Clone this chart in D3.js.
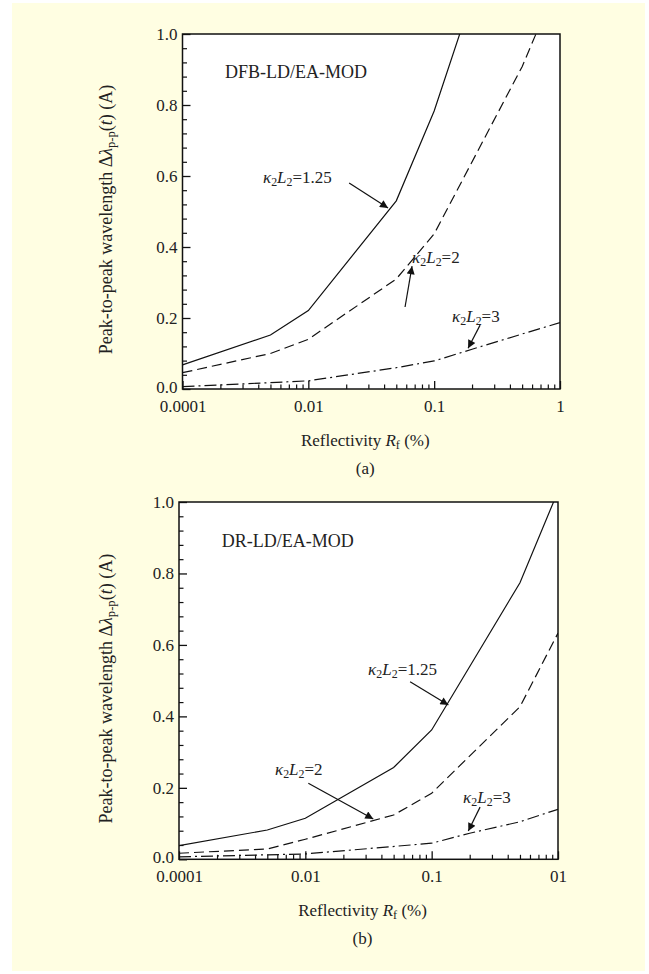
<!DOCTYPE html>
<html>
<head>
<meta charset="utf-8">
<script src="https://cdn.jsdelivr.net/npm/d3@7"></script>
<style>
  html, body { margin: 0; padding: 0; background: #ffffff; }
  svg { display: block; }
  text { font-family: "Liberation Serif", "Times New Roman", serif; fill: #222; }
</style>
</head>
<body>
<svg id="chart" width="649" height="974"></svg>
<script>
// ---- data ----
const xTickValues = [0.001, 0.01, 0.1, 1];
const yTickValues = [0, 0.2, 0.4, 0.6, 0.8, 1.0];
const yTickLabels = ["0.0", "0.2", "0.4", "0.6", "0.8", "1.0"];
const xTickLabelsA = ["0.0001", "0.01", "0.1", "1"];
const xTickLabelsB = ["0.0001", "0.01", "0.1", "01"];

// panel (a) DFB-LD/EA-MOD
const a_k125_x = [0.001, 0.005, 0.01, 0.05, 0.1, 0.5];
const a_k125_y = [0.068, 0.152, 0.221, 0.530, 0.783, 1.53];
const a_k2_x = [0.001, 0.005, 0.01, 0.05, 0.1, 0.5, 1];
const a_k2_y = [0.046, 0.100, 0.140, 0.310, 0.437, 0.908, 1.16];
const a_k3_x = [0.001, 0.01, 0.05, 0.1, 0.2, 0.5, 1];
const a_k3_y = [0.0065, 0.023, 0.060, 0.079, 0.112, 0.155, 0.187];

// panel (b) DR-LD/EA-MOD
const b_k125_x = [0.001, 0.005, 0.01, 0.05, 0.1, 0.5, 1];
const b_k125_y = [0.038, 0.082, 0.115, 0.257, 0.362, 0.774, 1.03];
const b_k2_x = [0.001, 0.005, 0.01, 0.05, 0.1, 0.5, 1];
const b_k2_y = [0.017, 0.029, 0.056, 0.124, 0.185, 0.427, 0.633];
const b_k3_x = [0.001, 0.01, 0.1, 0.2, 0.5, 1];
const b_k3_y = [0.007, 0.015, 0.045, 0.073, 0.105, 0.140];

const seriesKappa = ["1.25", "2", "3"];

// annotations: [label x, label y, arrow from x, from y, arrow to x, to y] in data units
const a_notes = [
  [0.00436, 0.580, 0.0211, 0.580, 0.043, 0.510],
  [0.0667, 0.355, 0.0587, 0.231, 0.0667, 0.346],
  [0.1387, 0.189, 0.2317, 0.180, 0.186, 0.115]
];
const b_notes = [
  [0.0314, 0.516, 0.0675, 0.497, 0.1356, 0.432],
  [0.00575, 0.236, 0.01056, 0.213, 0.0345, 0.113],
  [0.1773, 0.157, 0.2416, 0.146, 0.195, 0.079]
];
const panelTitles = ["DFB-LD/EA-MOD", "DR-LD/EA-MOD"];
const panelTags = ["(a)", "(b)"];
const titlePos = [0.00218, 0.875];

// ---- drawing ----
const svg = d3.select("#chart");
svg.append("rect").attr("x", 12).attr("y", 3).attr("width", 633).attr("height", 968)
  .attr("fill", "#fffee2");

const defs = svg.append("defs");
defs.append("marker").attr("id", "arrow")
  .attr("viewBox", "0 0 10 10").attr("refX", 10).attr("refY", 5)
  .attr("markerWidth", 11).attr("markerHeight", 8).attr("markerUnits", "userSpaceOnUse")
  .attr("orient", "auto")
  .append("path").attr("d", "M0,0 L10,5 L0,10 Z").attr("fill", "#111");

const dashStyles = [null, "10,5", "12,4,2,4"];
const FS = 17;

const panels = [
  { left: 182.5, right: 560, top: 34, bottom: 389, xLabels: xTickLabelsA,
    series: [[a_k125_x, a_k125_y], [a_k2_x, a_k2_y], [a_k3_x, a_k3_y]], notes: a_notes },
  { left: 179, right: 558, top: 502, bottom: 859.3, xLabels: xTickLabelsB,
    series: [[b_k125_x, b_k125_y], [b_k2_x, b_k2_y], [b_k3_x, b_k3_y]], notes: b_notes }
];

function kappaLabel(sel, val) {
  sel.append("tspan").attr("font-style", "italic").text("κ");
  sel.append("tspan").attr("font-size", FS * 0.7).attr("dy", 3).text("2");
  sel.append("tspan").attr("font-style", "italic").attr("dy", -3).text("L");
  sel.append("tspan").attr("font-size", FS * 0.7).attr("dy", 3).text("2");
  sel.append("tspan").attr("dy", -3).text("=" + val);
}

panels.forEach((p, pi) => {
  const x = d3.scaleLog().domain([0.001, 1]).range([p.left, p.right]);
  const y = d3.scaleLinear().domain([0, 1]).range([p.bottom, p.top]);
  const g = svg.append("g");

  g.append("rect").attr("x", p.left).attr("y", p.top)
    .attr("width", p.right - p.left).attr("height", p.bottom - p.top).attr("fill", "#ffffff");

  const clipId = "clip" + pi;
  defs.append("clipPath").attr("id", clipId).append("rect")
    .attr("x", p.left).attr("y", p.top).attr("width", p.right - p.left).attr("height", p.bottom - p.top);

  // minor x ticks
  const minorX = [];
  [0.001, 0.01, 0.1].forEach(d => { for (let k = 2; k <= 9; k++) minorX.push(d * k); });
  g.append("g").attr("transform", `translate(0,${p.bottom})`)
    .call(d3.axisBottom(x).tickValues(minorX).tickSize(-4.5).tickFormat(""))
    .call(s => s.select(".domain").remove())
    .selectAll("line").attr("stroke", "#111").attr("stroke-width", 1.2);
  // major x ticks
  const xa = g.append("g").attr("transform", `translate(0,${p.bottom})`)
    .call(d3.axisBottom(x).tickValues(xTickValues).tickSizeInner(-8).tickSizeOuter(0).tickPadding(11)
      .tickFormat((d, i) => p.xLabels[i]));
  xa.select(".domain").remove();
  xa.selectAll("line").attr("stroke", "#111").attr("stroke-width", 1.3);
  xa.selectAll("text").attr("font-size", FS).attr("font-family", "Liberation Serif, serif").attr("fill", "#222");

  // minor y ticks
  const minorY = d3.range(0, 1.0001, 0.04).filter(v => Math.abs(v / 0.2 - Math.round(v / 0.2)) > 1e-6);
  g.append("g").attr("transform", `translate(${p.left},0)`)
    .call(d3.axisLeft(y).tickValues(minorY).tickSize(-4.5).tickFormat(""))
    .call(s => s.select(".domain").remove())
    .selectAll("line").attr("stroke", "#111").attr("stroke-width", 1.2);
  const ya = g.append("g").attr("transform", `translate(${p.left},0)`)
    .call(d3.axisLeft(y).tickValues(yTickValues).tickSizeInner(-8).tickSizeOuter(0).tickPadding(5)
      .tickFormat((d, i) => yTickLabels[i]));
  ya.select(".domain").remove();
  ya.selectAll("line").attr("stroke", "#111").attr("stroke-width", 1.3);
  ya.selectAll("text").attr("font-size", FS).attr("font-family", "Liberation Serif, serif").attr("fill", "#222")
    .attr("dy", d => d === 0 ? "0.18em" : "0.32em");

  // frame
  g.append("rect").attr("x", p.left).attr("y", p.top)
    .attr("width", p.right - p.left).attr("height", p.bottom - p.top)
    .attr("fill", "none").attr("stroke", "#111").attr("stroke-width", 1.5);

  // curves
  const line = d3.line().x(d => x(d[0])).y(d => y(d[1]));
  p.series.forEach((s, si) => {
    const pts = s[0].map((xv, i) => [xv, s[1][i]]);
    g.append("path").datum(pts).attr("d", line)
      .attr("clip-path", `url(#${clipId})`)
      .attr("fill", "none").attr("stroke", "#111").attr("stroke-width", 1.2)
      .attr("stroke-dasharray", dashStyles[si]);
  });

  // title
  g.append("text").attr("x", x(titlePos[0])).attr("y", y(titlePos[1]))
    .attr("font-size", 18).text(panelTitles[pi]);

  // annotations
  p.notes.forEach((n, ni) => {
    const t = g.append("text").attr("x", x(n[0])).attr("y", y(n[1])).attr("font-size", FS);
    kappaLabel(t, seriesKappa[ni]);
    g.append("line").attr("x1", x(n[2])).attr("y1", y(n[3])).attr("x2", x(n[4])).attr("y2", y(n[5]))
      .attr("stroke", "#111").attr("stroke-width", 1.2).attr("marker-end", "url(#arrow)");
  });

  // x axis label
  const cx = (p.left + p.right) / 2 - 6;
  const xl = g.append("text").attr("x", cx).attr("y", p.bottom + 57).attr("text-anchor", "middle").attr("font-size", FS);
  xl.append("tspan").text("Reflectivity ");
  xl.append("tspan").attr("font-style", "italic").text("R");
  xl.append("tspan").attr("font-size", FS * 0.72).attr("dy", 3).text("f");
  xl.append("tspan").attr("dy", -3).text(" (%)");

  g.append("text").attr("x", cx).attr("y", p.bottom + 85).attr("text-anchor", "middle")
    .attr("font-size", FS).text(panelTags[pi]);

  // y axis label
  const cy = (p.top + p.bottom) / 2 + 8;
  const yl = g.append("text").attr("transform", `translate(112,${cy}) rotate(-90)`)
    .attr("text-anchor", "middle").attr("font-size", 18);
  yl.append("tspan").text("Peak-to-peak wavelength Δ");
  yl.append("tspan").attr("font-style", "italic").text("λ");
  yl.append("tspan").attr("font-size", 18 * 0.7).attr("dy", 3).text("p-p");
  yl.append("tspan").attr("dy", -3).text("(");
  yl.append("tspan").attr("font-style", "italic").text("t");
  yl.append("tspan").text(") (A)");
});
</script>
</body>
</html>
